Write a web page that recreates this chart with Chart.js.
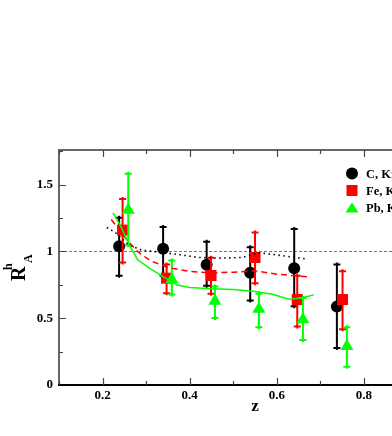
<!DOCTYPE html>
<html>
<head>
<meta charset="utf-8">
<script src="https://cdn.jsdelivr.net/npm/chart.js@4.4.1/dist/chart.umd.min.js"></script>
<style>
  html, body { margin: 0; padding: 0; background: #fff; overflow: hidden; }
</style>
</head>
<body>
<canvas id="chart" width="460" height="436"></canvas>
<script>
// tick labels
const xTicks = [0.2, 0.4, 0.6, 0.8];
const yTicks = [0, 0.5, 1, 1.5];

// C data (black circles)
const cZ = [0.238, 0.339, 0.439, 0.539, 0.640, 0.738];
const cR = [1.04, 1.02, 0.90, 0.84, 0.875, 0.587];
const cHi = [1.26, 1.19, 1.08, 1.04, 1.175, 0.91];
const cLo = [0.81, 0.81, 0.735, 0.625, 0.583, 0.27];

// Fe data (red squares)
const feZ = [0.246, 0.347, 0.449, 0.550, 0.647, 0.751];
const feR = [1.16, 0.80, 0.82, 0.955, 0.64, 0.64];
const feHi = [1.40, 0.91, 0.96, 1.15, 0.825, 0.86];
const feLo = [0.91, 0.68, 0.675, 0.755, 0.43, 0.41];

// Pb data (green triangles)
const pbZ = [0.259, 0.359, 0.458, 0.559, 0.660, 0.761];
const pbR = [1.31, 0.79, 0.63, 0.57, 0.49, 0.29];
const pbHi = [1.59, 0.94, 0.745, 0.69, 0.66, 0.44];
const pbLo = [1.04, 0.67, 0.495, 0.425, 0.33, 0.13];

// model curves
const dotZ = [0.21, 0.23, 0.26, 0.29, 0.33, 0.38, 0.42, 0.47, 0.52, 0.56, 0.61, 0.665];
const dotR = [1.18, 1.14, 1.05, 1.01, 0.995, 0.975, 0.955, 0.95, 0.955, 0.99, 0.97, 0.945];
const redZ = [0.22, 0.25, 0.28, 0.31, 0.35, 0.40, 0.45, 0.50, 0.55, 0.60, 0.67];
const redR = [1.24, 1.11, 1.00, 0.93, 0.88, 0.85, 0.84, 0.845, 0.855, 0.83, 0.81];
const grnZ = [0.224, 0.24, 0.263, 0.28, 0.31, 0.34, 0.37, 0.40, 0.45, 0.50, 0.55, 0.59, 0.63, 0.66, 0.685];
const grnR = [1.29, 1.20, 1.04, 0.94, 0.87, 0.81, 0.75, 0.73, 0.72, 0.715, 0.70, 0.68, 0.64, 0.655, 0.675];

const refZ = [0.1, 1.0];
const refR = [1, 1];

const legendLabels = ['C, Kr', 'Fe, Kr', 'Pb, Kr'];

const pts = (xs, ys) => xs.map((x, i) => ({ x: x, y: ys[i] }));
const FONT = '"Liberation Serif", "DejaVu Serif", serif';

// draw error bars under each marker set
const errorBars = {
  id: 'errorBars',
  beforeDatasetDraw(chart, args) {
    const ds = chart.data.datasets[args.index];
    if (!ds.errHi) return;
    const ctx = chart.ctx, xs = chart.scales.x, ys = chart.scales.y;
    ctx.save();
    ctx.strokeStyle = ds.backgroundColor;
    ctx.lineWidth = 2;
    ds.data.forEach((p, i) => {
      const px = xs.getPixelForValue(p.x);
      const top = ys.getPixelForValue(ds.errHi[i]);
      const bot = ys.getPixelForValue(ds.errLo[i]);
      ctx.beginPath();
      ctx.moveTo(px, top - 1);
      ctx.lineTo(px, bot + 1);
      ctx.moveTo(px - 3.5, top + 1);
      ctx.lineTo(px + 3.5, top + 1);
      ctx.moveTo(px - 3.5, bot - 1);
      ctx.lineTo(px + 3.5, bot - 1);
      ctx.stroke();
    });
    ctx.restore();
  }
};

// frame, inward ticks, titles and legend
const decor = {
  id: 'decor',
  afterDraw(chart) {
    const ctx = chart.ctx, a = chart.chartArea;
    const xs = chart.scales.x, ys = chart.scales.y;
    ctx.save();
    // frame
    ctx.lineWidth = 2;
    ctx.strokeStyle = '#666';
    ctx.beginPath();
    ctx.moveTo(a.left, a.bottom);
    ctx.lineTo(a.left, a.top);
    ctx.lineTo(a.right, a.top);
    ctx.lineTo(a.right, a.bottom);
    ctx.stroke();
    ctx.strokeStyle = '#000';
    ctx.beginPath();
    ctx.moveTo(a.left - 1, a.bottom);
    ctx.lineTo(a.right + 1, a.bottom);
    ctx.stroke();

    // ticks
    ctx.lineWidth = 1.2;
    ctx.strokeStyle = '#444';
    ctx.beginPath();
    for (let k = 1; k <= 9; k++) {
      const v = k / 10;
      const px = Math.round(xs.getPixelForValue(v)) + 0.5;
      const len = (k % 2 === 0) ? 7 : 4;
      ctx.moveTo(px, a.bottom);
      ctx.lineTo(px, a.bottom - len);
      ctx.moveTo(px, a.top);
      ctx.lineTo(px, a.top + len);
    }
    for (let k = 1; k <= 7; k++) {
      const v = k * 0.25;
      if (v > ys.max) break;
      const py = Math.round(ys.getPixelForValue(v)) + 0.5;
      const len = (k % 2 === 0) ? 7 : 4;
      ctx.moveTo(a.left, py);
      ctx.lineTo(a.left + len, py);
      ctx.moveTo(a.right, py);
      ctx.lineTo(a.right - len, py);
    }
    ctx.stroke();

    // x title
    ctx.fillStyle = '#000';
    ctx.font = 'bold 17px ' + FONT;
    ctx.textAlign = 'center';
    ctx.textBaseline = 'alphabetic';
    ctx.fillText('z', (a.left + a.right) / 2, 411);

    // y title R^h_A
    ctx.save();
    ctx.translate(25, 281);
    ctx.rotate(-Math.PI / 2);
    ctx.textAlign = 'left';
    ctx.font = 'bold 20px ' + FONT;
    ctx.fillText('R', 0, 0);
    ctx.font = 'bold 12px ' + FONT;
    ctx.fillText('h', 11, -13);
    ctx.fillText('A', 18, 7);
    ctx.restore();

    // legend
    const lx = 352;
    const rows = [173.5, 190.5, 207.5];
    ctx.fillStyle = '#000';
    ctx.beginPath();
    ctx.arc(lx, rows[0], 6, 0, Math.PI * 2);
    ctx.fill();
    ctx.fillStyle = '#ff0000';
    ctx.fillRect(lx - 5.5, rows[1] - 5.5, 11, 11);
    ctx.fillStyle = '#00ff00';
    ctx.beginPath();
    ctx.moveTo(lx, rows[2] - 5);
    ctx.lineTo(lx + 6.5, rows[2] + 5);
    ctx.lineTo(lx - 6.5, rows[2] + 5);
    ctx.closePath();
    ctx.fill();
    ctx.fillStyle = '#000';
    ctx.font = 'bold 12.5px ' + FONT;
    ctx.textAlign = 'left';
    ctx.textBaseline = 'alphabetic';
    legendLabels.forEach((t, i) => ctx.fillText(t, 366, rows[i] + 4));
    ctx.restore();
  }
};

new Chart(document.getElementById('chart'), {
  type: 'scatter',
  data: {
    datasets: [
      { data: pts(grnZ, grnR), showLine: true, borderColor: '#00ff00', borderWidth: 1.5,
        pointRadius: 0, tension: 0, order: 0 },
      { data: pts(redZ, redR), showLine: true, borderColor: '#ff0000', borderWidth: 1.5,
        borderDash: [6, 4], pointRadius: 0, tension: 0, order: 1 },
      { data: pts(dotZ, dotR), showLine: true, borderColor: '#000', borderWidth: 1.6,
        borderDash: [1.5, 3.5], pointRadius: 0, tension: 0, order: 2 },
      { data: pts(pbZ, pbR), errHi: pbHi, errLo: pbLo, pointStyle: 'triangle', pointRadius: 7.5,
        backgroundColor: '#00ff00', borderColor: '#00ff00', borderWidth: 0, order: 3 },
      { data: pts(feZ, feR), errHi: feHi, errLo: feLo, pointStyle: 'rect', pointRadius: 7.8,
        backgroundColor: '#ff0000', borderColor: '#ff0000', borderWidth: 0, order: 4 },
      { data: pts(cZ, cR), errHi: cHi, errLo: cLo, pointStyle: 'circle', pointRadius: 6,
        backgroundColor: '#000000', borderColor: '#000000', borderWidth: 0, order: 5 },
      { data: pts(refZ, refR), showLine: true, borderColor: '#777', borderWidth: 1,
        borderDash: [3, 2], pointRadius: 0, order: 10 }
    ]
  },
  options: {
    responsive: false,
    animation: false,
    events: [],
    layout: { padding: { top: 150, left: 0, right: 9, bottom: 0 } },
    plugins: { legend: { display: false }, tooltip: { enabled: false } },
    scales: {
      x: {
        type: 'linear', min: 0.1, max: 1.0,
        grid: { display: false, drawTicks: false },
        border: { display: false },
        afterBuildTicks: (s) => { s.ticks = xTicks.map(v => ({ value: v })); },
        afterFit: (s) => { s.height = 51; },
        ticks: { padding: 3, color: '#000', font: { family: FONT, size: 13, weight: 'bold' },
                 callback: (v) => String(v) }
      },
      y: {
        type: 'linear', min: 0, max: 1.76,
        grid: { display: false, drawTicks: false },
        border: { display: false },
        afterBuildTicks: (s) => { s.ticks = yTicks.map(v => ({ value: v })); },
        afterFit: (s) => { s.width = 59; },
        ticks: { padding: 6, color: '#000', font: { family: FONT, size: 13, weight: 'bold' },
                 callback: (v) => String(v) }
      }
    }
  },
  plugins: [errorBars, decor]
});
</script>
</body>
</html>
